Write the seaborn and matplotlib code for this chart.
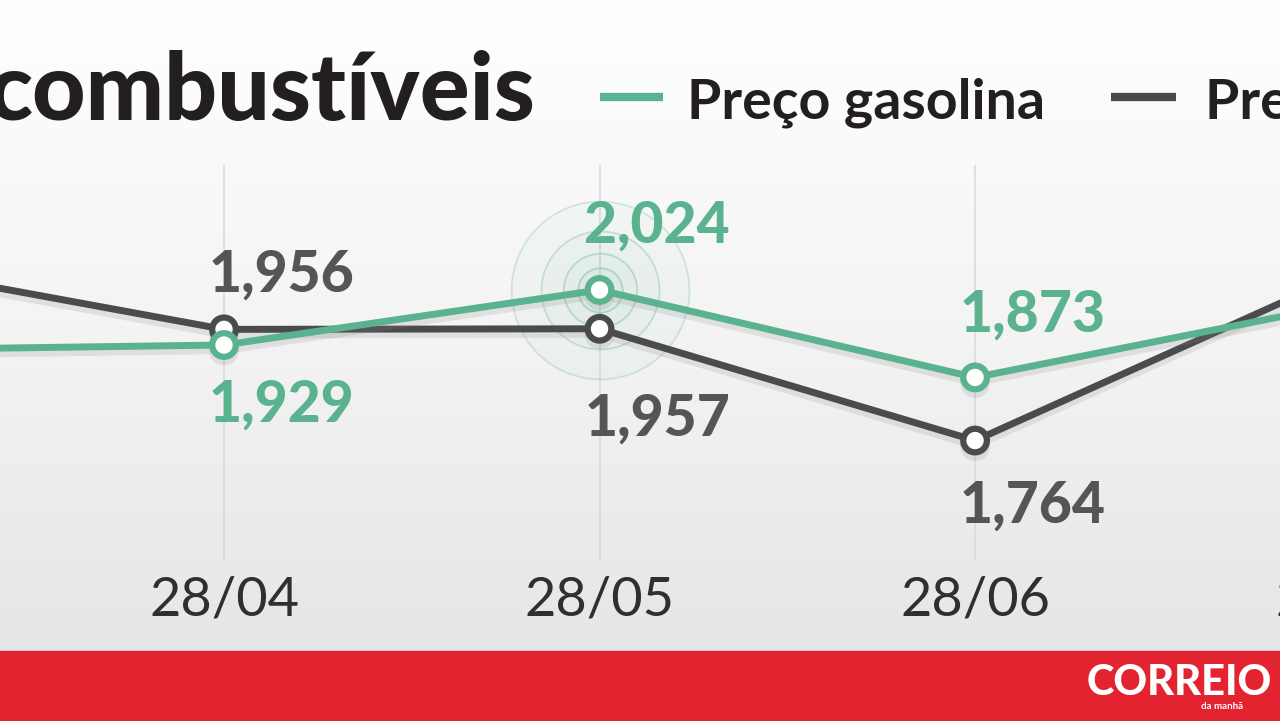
import numpy as np
import pandas as pd
import seaborn as sns
import matplotlib.pyplot as plt
import matplotlib.patheffects as pe
from matplotlib import font_manager
from matplotlib.transforms import blended_transform_factory

# data (first and last points lie outside the crop)
datas = ["28/03", "28/04", "28/05", "28/06", "28/07"]
gasolina = [1.920, 1.929, 2.024, 1.873, 2.002]
gasoleo = [2.075, 1.956, 1.957, 1.764, 2.056]
rotulos_visiveis = [1, 2, 3]

VERDE = "#5bb28f"
CINZA = "#4b4b4d"
TEXTO = "#231f20"
VERMELHO = "#e3232f"

sns.set_style("white")
nomes = {f.name for f in font_manager.fontManager.ttflist}
FONTE = "Lato" if "Lato" in nomes else "DejaVu Sans"
plt.rcParams["font.family"] = [FONTE, "DejaVu Sans"]

df = pd.DataFrame({"pos": range(len(datas)), "gasolina": gasolina, "gasoleo": gasoleo})

fig = plt.figure(figsize=(12.8, 7.21), dpi=100)

# background gradient (white on top, light grey at the bottom) + red band
bg = fig.add_axes([0, 0, 1, 1], zorder=-5)
grad = np.linspace(0, 1, 256).reshape(-1, 1)
cmap = sns.blend_palette(["#e5e6e8", "#f4f4f5", "#ffffff"], as_cmap=True)
bg.imshow(grad, aspect="auto", cmap=cmap, extent=[0, 1, 0.0971, 1], origin="lower")
bg.axhspan(0, 0.0971, color=VERMELHO)
bg.set_xlim(0, 1)
bg.set_ylim(0, 1)
bg.axis("off")

ax = fig.add_axes([0, 0.2233, 1, 0.5479])
ax.patch.set_alpha(0)
ax.set_xlim(0.4035, 3.812)
ax.set_ylim(1.5577, 2.2399)

for x in range(len(datas)):
    ax.axvline(x, color="#d9dadc", lw=1.2, zorder=0)

# halo around the max of gasolina
for d, a in zip([128, 85, 53, 32], [0.25, 0.3, 0.35, 0.4]):
    ax.scatter([2], [gasolina[2]], s=d ** 2, facecolors=(0.36, 0.7, 0.56, 0.04),
               edgecolors=(0.36, 0.7, 0.56, a), linewidths=1.3, zorder=1)

sombra = [pe.SimpleLineShadow(offset=(0, -4), shadow_color="#888888", alpha=0.18), pe.Normal()]
for col, cor in [("gasoleo", CINZA), ("gasolina", VERDE)]:
    sns.lineplot(data=df, x="pos", y=col, ax=ax, color=cor, lw=5, marker="o",
                 markersize=17, markerfacecolor="white", markeredgecolor=cor,
                 markeredgewidth=4.5, zorder=3)
    ax.lines[-1].set_path_effects(sombra)

# value labels (offsets in points, positive = up)
desl_gas = {1: -43, 2: 46, 3: 45}
desl_die = {1: 39, 2: -65, 3: -47}
for i in rotulos_visiveis:
    ax.annotate(f"{gasolina[i]:.3f}".replace(".", ","), (i, gasolina[i]),
                xytext=(-11, desl_gas[i]), textcoords="offset points", ha="left",
                va="center", color=VERDE, fontsize=41, fontweight="black", zorder=5)
    ax.annotate(f"{gasoleo[i]:.3f}".replace(".", ","), (i, gasoleo[i]),
                xytext=(-11, desl_die[i]), textcoords="offset points", ha="left",
                va="center", color="#555557", fontsize=41, fontweight="black", zorder=5)

trans = blended_transform_factory(ax.transData, ax.transAxes)
for i, d in enumerate(datas):
    ax.text(i, -0.1, d, transform=trans, ha="center", va="center", fontsize=39,
            color="#2f2f31", clip_on=False)

ax.set_xticks([])
ax.set_yticks([])
ax.set_xlabel("")
ax.set_ylabel("")
sns.despine(ax=ax, left=True, bottom=True)

# title and legend
fig.text(535 / 1280, 1 - 120 / 721, "combustíveis", ha="right", va="baseline",
         fontsize=67, fontweight="black", color=TEXTO)
fig.add_artist(plt.Line2D([600 / 1280, 663 / 1280], [1 - 97 / 721] * 2, color=VERDE, lw=6,
                          solid_capstyle="butt"))
fig.text(687 / 1280, 1 - 118 / 721, "Preço gasolina", ha="left", va="baseline",
         fontsize=40, fontweight="bold", color=TEXTO)
fig.add_artist(plt.Line2D([1111 / 1280, 1176 / 1280], [1 - 97 / 721] * 2, color=CINZA, lw=6,
                          solid_capstyle="butt"))
fig.text(1205 / 1280, 1 - 118 / 721, "Preço gasóleo", ha="left", va="baseline",
         fontsize=40, fontweight="bold", color=TEXTO)

# logo
fig.text(1179 / 1280, 1 - 695 / 721, "CORREIO", ha="center", va="baseline",
         fontsize=30, fontweight="black", color="white")
fig.text(1222 / 1280, 1 - 709 / 721, "da manhã", ha="center", va="baseline",
         fontsize=7, fontweight="bold", color="white")

fig.savefig("out.png", dpi=100)
